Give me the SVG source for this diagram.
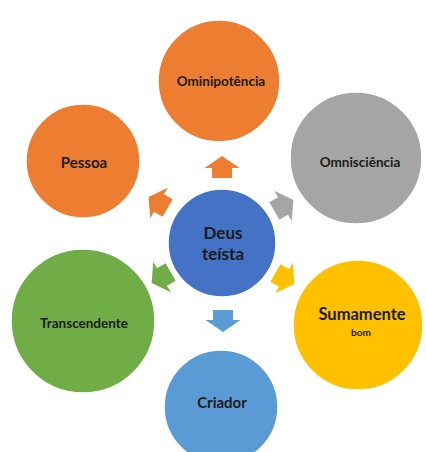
<svg xmlns="http://www.w3.org/2000/svg" width="426" height="452" viewBox="0 0 426 452">
<style>
  .t { font-family: Lato, "Open Sans", "Liberation Sans", sans-serif; font-weight: bold; fill: #1b1b1b; text-anchor: middle; dominant-baseline: central; }
  .c { stroke: #ffffff; stroke-width: 1.5; }
</style>
<defs>
  <polygon id="arr" points="-10,-10 0,-10 0,-17.5 12,0 0,17.5 0,10 -10,10"/>
</defs>
<rect width="426" height="452" fill="#ffffff"/>
<g id="connectors">
  <use href="#arr" fill="#ED7D31" transform="translate(222,168) rotate(-90)"/>
  <use href="#arr" fill="#A5A5A5" transform="translate(283,206) rotate(-30)"/>
  <use href="#arr" fill="#FFC000" transform="translate(284,278) rotate(30)"/>
  <use href="#arr" fill="#5B9BD5" transform="translate(223,320) rotate(90)"/>
  <use href="#arr" fill="#70AD47" transform="translate(162,277) rotate(150)"/>
  <use href="#arr" fill="#ED7D31" transform="translate(159,203) rotate(210)"/>
</g>
<g id="center">
  <circle class="c" cx="222" cy="243" r="54" fill="#4472C4"/>
  <text class="t" x="223" y="232" font-size="17" fill="#1a2340">Deus</text>
  <text class="t" x="223" y="253" font-size="17" fill="#1a2340">teísta</text>
</g>
<g id="omnipotencia">
  <circle class="c" cx="219" cy="81" r="61" fill="#ED7D31"/>
  <text class="t" x="221" y="81" font-size="13.5">Ominipotência</text>
</g>
<g id="omnisciencia">
  <circle class="c" cx="356" cy="158" r="66" fill="#A5A5A5"/>
  <text class="t" x="360" y="162" font-size="13.5">Omnisciência</text>
</g>
<g id="sumamente">
  <circle class="c" cx="358" cy="325" r="65" fill="#FFC000"/>
  <text class="t" x="362" y="314" font-size="16.5">Sumamente</text>
  <text class="t" x="361" y="332" font-size="10">bom</text>
</g>
<g id="criador">
  <circle class="c" cx="221" cy="407" r="57" fill="#5B9BD5"/>
  <text class="t" x="222" y="402" font-size="15">Criador</text>
</g>
<g id="transcendente">
  <circle class="c" cx="83" cy="321" r="72" fill="#70AD47"/>
  <text class="t" x="84" y="323" font-size="13.5">Transcendente</text>
</g>
<g id="pessoa">
  <circle class="c" cx="83" cy="161" r="57" fill="#ED7D31"/>
  <text class="t" x="84" y="162" font-size="15">Pessoa</text>
</g>
</svg>
